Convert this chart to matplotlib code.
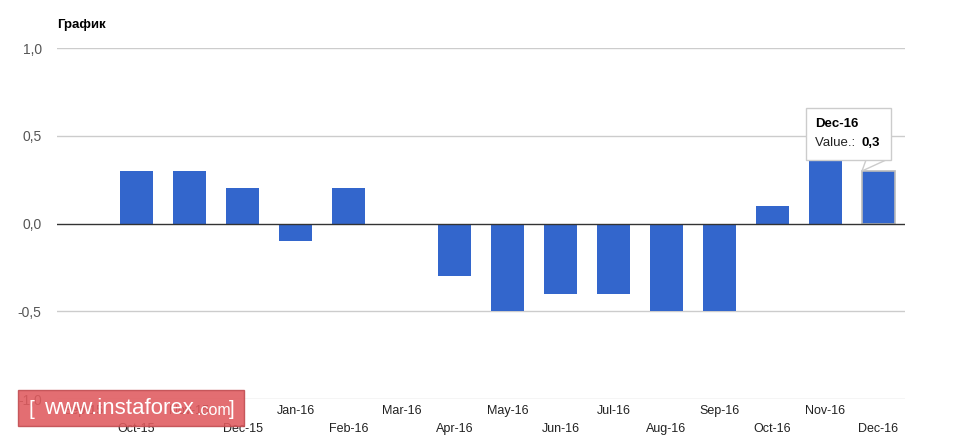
import numpy as np
import matplotlib.pyplot as plt
from matplotlib.patches import Rectangle, Polygon

plt.rcParams['font.family'] = ['Liberation Sans', 'DejaVu Sans']

# Data
months = ["Sep-15", "Oct-15", "Nov-15", "Dec-15", "Jan-16", "Feb-16", "Mar-16",
          "Apr-16", "May-16", "Jun-16", "Jul-16", "Aug-16", "Sep-16", "Oct-16",
          "Nov-16", "Dec-16"]
values = [np.nan, 0.3, 0.3, 0.2, -0.1, 0.2, 0.0, -0.3, -0.5, -0.4, -0.4,
          -0.5, -0.5, 0.1, 0.4, 0.3]
y_ticks = [-1.0, -0.5, 0.0, 0.5, 1.0]
y_labels = ["-1,0", "-0,5", "0,0", "0,5", "1,0"]

W, H = 969, 440
fig = plt.figure(figsize=(W / 100, H / 100), dpi=100)
ax = fig.add_axes([57 / W, 1 - 399 / H, (905 - 57) / W, (399 - 48) / H])

x = np.arange(len(months))
bars = ax.bar(x, values, width=0.62, color="#3366cc", zorder=3)
# highlighted bar
bars[-1].set_edgecolor("#bbbbbb")
bars[-1].set_linewidth(1.2)

ax.set_xlim(-0.5, len(months) - 0.5)
ax.set_ylim(-1.0, 1.0)

# grid
for yv in y_ticks:
    if yv == 0:
        ax.axhline(yv, color="#333333", lw=1.0, zorder=4)
    else:
        ax.axhline(yv, color="#cccccc", lw=1.0, zorder=1)

for s in ax.spines.values():
    s.set_visible(False)
ax.set_yticks(y_ticks)
ax.set_yticklabels(y_labels, fontsize=10, color="#555555")
ax.tick_params(axis="y", length=0, pad=11)
ax.set_xticks([])

# staggered x labels
for i, m in enumerate(months):
    yy = -1.07 if i % 2 == 0 else -1.17
    ax.text(i, yy, m, ha="center", va="center", fontsize=9, color="#222222",
            clip_on=False)

# title
fig.text(57 / W, 1 - 25 / H, "График", fontsize=9.5, fontweight="bold",
         ha="left", va="center", color="#000000")

# tooltip
tx0, ty0, tx1, ty1 = 806, 108, 891, 160
tip = Polygon([[(tx0 + 60) / W, 1 - ty1 / H], [(tx0 + 80) / W, 1 - ty1 / H],
               [862 / W, 1 - 171 / H]], closed=True, transform=fig.transFigure,
              facecolor="white", edgecolor="#cccccc", lw=1, zorder=10)
box = Rectangle((tx0 / W, 1 - ty1 / H), (tx1 - tx0) / W, (ty1 - ty0) / H,
                transform=fig.transFigure, facecolor="white",
                edgecolor="#cccccc", lw=1, zorder=11)
fig.patches.extend([tip, box])
fig.text(815 / W, 1 - 124 / H, "Dec-16", fontsize=9.5, fontweight="bold",
         ha="left", va="center", zorder=12)
fig.text(815 / W, 1 - 143 / H, "Value.: ", fontsize=9.5, ha="left",
         va="center", color="#222222", zorder=12)
fig.text(862 / W, 1 - 143 / H, "0,3", fontsize=9.5, fontweight="bold",
         ha="left", va="center", zorder=12)

# watermark
wm = Rectangle((18 / W, 1 - 426 / H), (244 - 18) / W, (426 - 390) / H,
               transform=fig.transFigure, facecolor="#e05a5e", alpha=0.88,
               edgecolor="#c04a4e", lw=1, zorder=20)
fig.patches.append(wm)
fig.text(28 / W, 1 - 409 / H, "[", fontsize=15, color="white", ha="left",
         va="center", zorder=21)
fig.text(44 / W, 1 - 408 / H, "www.instaforex", fontsize=16, color="white",
         ha="left", va="center", zorder=21)
fig.text(196 / W, 1 - 410 / H, ".com", fontsize=11.5, color="white",
         ha="left", va="center", zorder=21)
fig.text(229 / W, 1 - 409 / H, "]", fontsize=15, color="white", ha="left",
         va="center", zorder=21)

fig.savefig("out.png", dpi=100)
